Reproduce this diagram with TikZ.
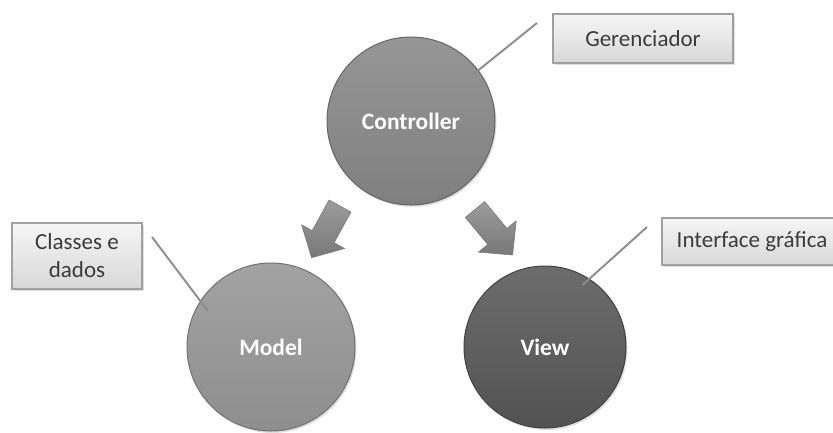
\documentclass[tikz,border=0pt]{standalone}
\usepackage{fontspec}
\setmainfont{Carlito}
\usetikzlibrary{shadows}

\definecolor{ctrlgray}{HTML}{7F7F7F}
\definecolor{modelgray}{HTML}{8E8E8E}
\definecolor{viewgray}{HTML}{525252}
\definecolor{boxtop}{HTML}{F6F6F6}
\definecolor{boxbottom}{HTML}{D8D8D8}
\definecolor{boxedge}{HTML}{A0A0A0}
\definecolor{tagtext}{HTML}{3C3C3C}
\definecolor{leadgray}{HTML}{8C8C8C}
\definecolor{arrowlight}{HTML}{9C9C9C}
\definecolor{arrowdark}{HTML}{787878}

\tikzset{
  role/.style={circle, minimum size=#1, inner sep=0pt, outer sep=0pt,
    line width=1pt, text=white,
    font=\bfseries\fontsize{23.5}{27}\selectfont,
    drop shadow={shadow xshift=1.5pt, shadow yshift=-2pt, opacity=0.25}},
  tag/.style={draw=boxedge, line width=1.2pt, top color=boxtop,
    bottom color=boxbottom, text=tagtext, align=center,
    font=\fontsize{23}{28}\selectfont, inner sep=0pt, outer sep=0pt,
    drop shadow={shadow xshift=1.5pt, shadow yshift=-2pt, opacity=0.25}},
  leader/.style={draw=leadgray, line width=1.9pt},
  pics/blockarrow/.style={code={
    \path[draw=arrowdark, line width=0.6pt, top color=arrowlight,
          bottom color=arrowdark, line join=round]
      (0,-12.5) -- (35,-12.5) -- (35,-24.5) -- (59,0) -- (35,24.5)
      -- (35,12.5) -- (0,12.5) -- cycle;
  }},
}

\begin{document}
\begin{tikzpicture}[x=1pt,y=-1pt]
  \clip (0,0) rectangle (833,432);
  \fill[white] (0,0) rectangle (833,432);

  % the three MVC roles
  \node[role=168pt, draw=ctrlgray!80!black, top color=ctrlgray!82!white,
        bottom color=ctrlgray] (ctrl) at (411,121) {\raisebox{-4pt}{Controller}};
  \node[role=168pt, draw=modelgray!80!black, top color=modelgray!82!white,
        bottom color=modelgray] (model) at (271,347) {\raisebox{-4pt}{Model}};
  \node[role=162pt, draw=viewgray!80!black, top color=viewgray!85!white,
        bottom color=viewgray] (view) at (545,347) {\raisebox{-4pt}{View}};

  % block arrows from the controller
  \pic[rotate=241.2] at (340,206) {blockarrow};
  \pic[rotate=-50.4] at (475,209.5) {blockarrow};

  % captions
  \node[tag, minimum width=180pt, minimum height=49pt] (ger) at (643,38.5) {Gerenciador};
  \node[tag, minimum width=130pt, minimum height=66pt] (cls) at (77,256) {Classes e\\dados};
  \node[tag, minimum width=180pt, minimum height=47pt] (gui) at (752,241.5) {Interface gráfica};

  % leader lines
  \coordinate (gerEnd) at (537,23);
  \coordinate (clsEnd) at (152,237);
  \coordinate (guiEnd) at (647,227);
  \draw[leader, shorten <=-6pt] (ctrl.37) -- (gerEnd);
  \draw[leader, shorten <=-12pt] (model.147.3) -- (clsEnd);
  \draw[leader, shorten <=-9pt] (view.57.7) -- (guiEnd);
\end{tikzpicture}
\end{document}
